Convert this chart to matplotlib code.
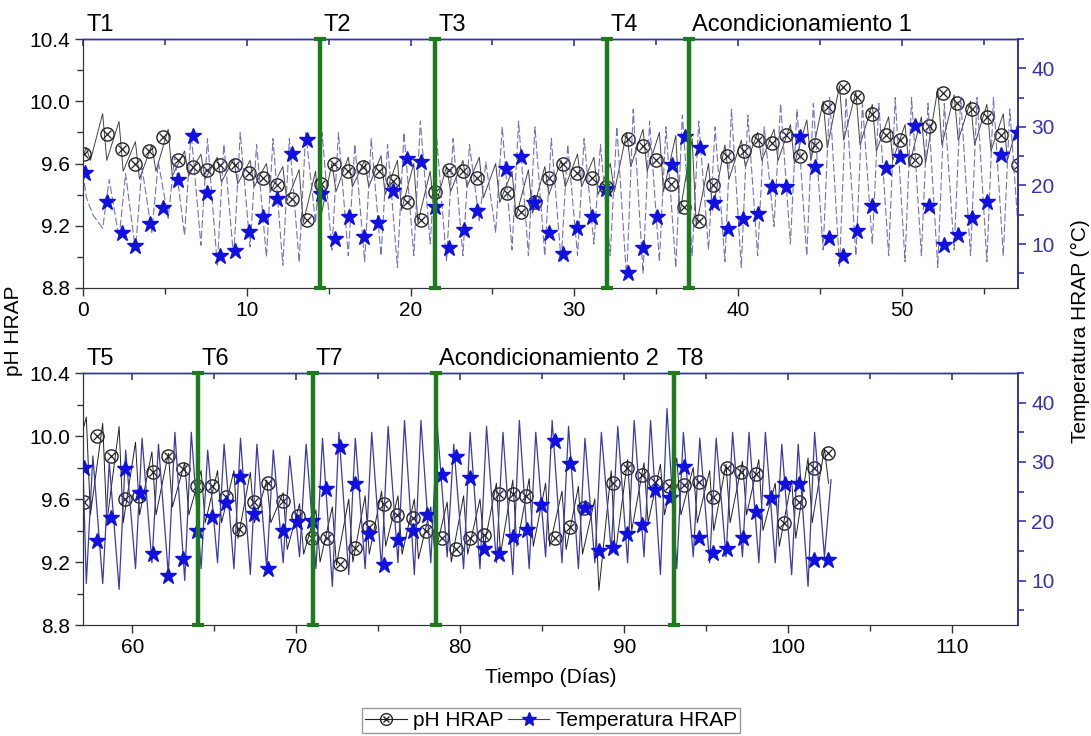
import numpy as np
import matplotlib.pyplot as plt
from matplotlib.lines import Line2D
from matplotlib.legend_handler import HandlerTuple
from matplotlib.ticker import MultipleLocator

plt.rcParams['font.family'] = ['Liberation Sans', 'DejaVu Sans']

# ---- daily extremes (days 0..57 top, 57..102 bottom)
top_days = np.arange(0, 58)
top_start = (0.0, 9.65, 22.2)          # day, pH, temperature at the first sample
top_ph_hi = [9.70, 9.92, 9.87, 9.74, 9.72, 9.82, 9.68, 9.66, 9.64, 9.63,
             9.62, 9.60, 9.58, 9.56, 9.55, 9.60, 9.64, 9.62, 9.65, 9.62,
             9.60, 9.55, 9.58, 9.62, 9.64, 9.60, 9.55, 9.56, 9.58, 9.62,
             9.66, 9.64, 9.60, 9.80, 9.82, 9.80, 9.78, 9.76, 9.60, 9.72,
             9.75, 9.80, 9.82, 9.85, 9.88, 10.00, 10.10, 10.06, 9.98, 9.90,
             9.85, 9.90, 10.08, 10.04, 10.00, 9.98, 9.92, 9.90]
top_ph_lo = [9.62, 9.62, 9.55, 9.50, 9.55, 9.52, 9.52, 9.50, 9.48, 9.47,
             9.45, 9.42, 9.36, 9.22, 9.22, 9.42, 9.45, 9.45, 9.40, 9.30,
             9.22, 9.30, 9.42, 9.45, 9.38, 9.35, 9.26, 9.28, 9.40, 9.45,
             9.45, 9.40, 9.42, 9.58, 9.55, 9.42, 9.28, 9.20, 9.30, 9.50,
             9.58, 9.62, 9.62, 9.60, 9.62, 9.70, 9.75, 9.72, 9.68, 9.62,
             9.58, 9.60, 9.72, 9.75, 9.72, 9.68, 9.62, 9.55]
top_temp_lo = [18, 12.7, 11, 9, 12, 14.4, 11.5, 9.8, 6.4, 7.6,
               9.5, 7.8, 6.4, 6.9, 13.6, 9, 8, 7, 8, 6,
               8, 10, 7, 8, 14, 12, 9, 8, 8, 7,
               8, 10, 8, 4, 5, 7, 6, 8, 9, 7,
               6, 8, 13, 10, 8, 9, 6, 8, 10, 8,
               7, 8, 6, 9, 8, 7, 8, 9]
top_temp_hi = [15, 21, 22, 23, 24, 25, 29, 28, 27, 29,
               27, 28, 28, 29, 29, 29, 27, 28, 27, 29,
               31, 28, 28, 27, 24, 30, 31, 30, 28, 27,
               28, 27, 30, 33, 31, 30, 32, 31, 30, 33,
               32, 30, 34, 33, 34, 35, 35, 34, 34, 35,
               35, 34, 34, 35, 35, 35, 33, 34]

bot_days = np.arange(57, 103)
bot_start = (57.0, 10.04, 29.0)
bot_ph_hi = [10.12, 10.08, 10.06, 9.96, 9.90, 9.89, 9.83, 9.78, 9.78, 9.78,
             9.77, 9.72, 9.64, 9.57, 9.53, 9.55, 9.60, 9.62, 9.65, 9.62,
             9.60, 9.55, 9.58, 9.62, 9.60, 9.70, 9.72, 9.73, 9.70, 9.65,
             9.68, 9.60, 9.78, 9.85, 9.83, 9.82, 9.86, 9.80, 9.78, 9.82,
             9.84, 9.85, 9.70, 9.72, 9.86, 9.92]
bot_ph_lo = [9.50, 9.45, 9.45, 9.50, 9.50, 9.55, 9.50, 9.45, 9.45, 9.35,
             9.45, 9.45, 9.28, 9.25, 9.20, 9.18, 9.20, 9.25, 9.30, 9.25,
             9.22, 9.25, 9.20, 9.25, 9.30, 9.25, 9.30, 9.30, 9.30, 9.28,
             9.25, 9.02, 9.25, 9.40, 9.45, 9.50, 9.50, 9.45, 9.40, 9.45,
             9.50, 9.40, 9.30, 9.35, 9.45, 9.70]
bot_temp_lo = [9.5, 9.5, 8.5, 12, 13, 11, 10, 12, 13, 12,
               11, 12, 13, 14, 12, 9, 11, 12, 12, 13,
               11, 13, 14, 12, 12, 13, 11, 12, 14, 13,
               12, 13, 15, 13, 14, 11, 12, 14, 13, 14,
               14, 13, 13, 11, 9, 14]
bot_temp_hi = [31, 30, 32, 34, 33, 35, 35, 32, 33, 34,
               33, 32, 31, 33, 34, 35, 34, 35, 36, 37,
               37, 36, 33, 35, 36, 35, 37, 35, 37, 36,
               34, 35, 36, 37, 37, 39, 35, 34, 34, 35,
               35, 35, 33, 33, 35, 27]

# ---- marker samples
top_ph_mk_x = [0.06, 1.47, 2.38, 3.17, 4.03, 4.88, 5.80, 6.72, 7.57, 8.36, 9.28,
               10.13, 10.99, 11.84, 12.76, 13.68, 14.53, 15.32, 16.18, 17.09, 18.07,
               18.93, 19.78, 20.63, 21.49, 22.34, 23.20, 24.05, 25.89, 26.74, 27.59,
               28.45, 29.30, 30.16, 31.07, 31.93, 33.27, 34.19, 34.98, 35.90, 36.69,
               37.61, 38.46, 39.32, 40.35, 41.21, 42.06, 42.92, 43.77, 44.69, 45.48,
               46.40, 47.25, 48.17, 49.02, 49.88, 50.79, 51.65, 52.50, 53.36, 54.27,
               55.19, 56.04, 57.08]
top_ph_mk_y = [9.66, 9.79, 9.69, 9.60, 9.68, 9.77, 9.62, 9.58, 9.56, 9.59, 9.59,
               9.54, 9.51, 9.46, 9.37, 9.24, 9.47, 9.60, 9.55, 9.58, 9.55,
               9.49, 9.35, 9.24, 9.42, 9.56, 9.55, 9.51, 9.41, 9.29, 9.35,
               9.51, 9.60, 9.54, 9.51, 9.45, 9.76, 9.71, 9.62, 9.47, 9.32,
               9.23, 9.46, 9.65, 9.68, 9.75, 9.73, 9.78, 9.65, 9.72, 9.96,
               10.09, 10.03, 9.92, 9.78, 9.75, 9.62, 9.84, 10.05, 9.99, 9.95,
               9.90, 9.78, 9.59]
top_temp_mk_x = [0.12, 1.47, 2.38, 3.17, 4.09, 4.88, 5.80, 6.72, 7.57, 8.36, 9.28,
                 10.13, 10.99, 11.84, 12.76, 13.68, 14.53, 15.38, 16.24, 17.15, 18.01,
                 18.93, 19.78, 20.63, 21.49, 22.34, 23.26, 24.05, 25.82, 26.74, 27.53,
                 28.45, 29.30, 30.16, 31.07, 31.93, 33.27, 34.19, 35.04, 35.96, 36.75,
                 37.67, 38.52, 39.38, 40.29, 41.21, 42.06, 42.92, 43.77, 44.69, 45.54,
                 46.40, 47.25, 48.17, 49.02, 49.88, 50.79, 51.65, 52.56, 53.42, 54.27,
                 55.19, 56.04, 57.08]
top_temp_mk_y = [22.2, 17.2, 11.9, 9.6, 13.4, 16.2, 21.0, 28.5, 18.7, 7.9, 8.8,
                 12.0, 14.6, 17.7, 25.4, 27.8, 18.6, 10.8, 14.6, 11.2, 13.6,
                 19.1, 24.6, 24.0, 16.3, 9.3, 12.4, 15.6, 22.8, 24.9, 17.0,
                 11.9, 8.3, 12.7, 14.6, 19.4, 5.0, 9.3, 14.6, 23.5, 28.3,
                 26.4, 17.0, 12.5, 14.3, 15.1, 19.8, 19.8, 28.3, 23.2, 11.0,
                 7.9, 12.2, 16.5, 23.0, 24.9, 30.1, 16.5, 9.8, 11.5, 14.4,
                 17.2, 25.2, 29.0]

bot_ph_mk_x = [57.06, 57.85, 58.71, 59.56, 60.42, 61.27, 62.19, 63.10, 63.96, 64.88,
               65.73, 66.52, 67.44, 68.29, 69.21, 70.13, 70.98, 71.90, 72.69, 73.61,
               74.46, 75.32, 76.17, 77.09, 77.88, 78.86, 79.71, 80.57, 81.42, 82.34,
               83.19, 83.98, 85.76, 86.67, 87.53, 89.30, 90.15, 91.07, 91.86, 92.71,
               93.63, 94.55, 95.40, 96.26, 97.11, 98.03, 99.73, 100.65, 101.57, 102.42]
bot_ph_mk_y = [9.58, 10.00, 9.87, 9.60, 9.62, 9.77, 9.87, 9.79, 9.68, 9.68,
               9.61, 9.41, 9.58, 9.70, 9.59, 9.49, 9.35, 9.35, 9.19, 9.29,
               9.42, 9.57, 9.50, 9.48, 9.40, 9.35, 9.28, 9.35, 9.37, 9.63,
               9.63, 9.62, 9.35, 9.42, 9.54, 9.70, 9.80, 9.75, 9.71, 9.68,
               9.69, 9.71, 9.61, 9.80, 9.77, 9.76, 9.45, 9.58, 9.80, 9.89]
bot_temp_mk_x = [57.06, 57.85, 58.71, 59.56, 60.48, 61.27, 62.19, 63.10, 63.96, 64.88,
                 65.73, 66.58, 67.44, 68.29, 69.21, 70.06, 70.98, 71.84, 72.69, 73.61,
                 74.46, 75.32, 76.23, 77.09, 78.00, 78.86, 79.71, 80.57, 81.42, 82.34,
                 83.19, 84.04, 84.89, 85.76, 86.67, 87.59, 88.44, 89.30, 90.15, 91.07,
                 91.86, 92.77, 93.63, 94.55, 95.40, 96.26, 97.23, 98.03, 98.94, 99.79,
                 100.65, 101.57, 102.42]
bot_temp_mk_y = [29.0, 16.7, 20.6, 28.8, 24.7, 14.4, 10.7, 13.6, 18.4, 20.8,
                 23.0, 27.5, 21.3, 12.0, 18.4, 19.9, 20.1, 25.4, 32.6, 26.3,
                 17.9, 12.6, 16.8, 18.4, 21.1, 27.8, 30.9, 27.3, 15.3, 14.4,
                 17.4, 18.6, 22.7, 33.5, 29.7, 22.3, 15.0, 15.5, 17.9, 19.4,
                 25.2, 23.9, 29.2, 17.2, 14.6, 15.3, 17.2, 21.5, 23.9, 26.3,
                 26.3, 13.4, 13.4]

top_stage_x = [14.5, 21.5, 32.0, 37.0]
top_labels = [(0.0, 'T1'), (14.5, 'T2'), (21.5, 'T3'), (32.0, 'T4'), (37.0, 'Acondicionamiento 1')]
bot_stage_x = [64.0, 71.0, 78.5, 93.0]
bot_labels = [(57.0, 'T5'), (64.0, 'T6'), (71.0, 'T7'), (78.5, 'Acondicionamiento 2'), (93.0, 'T8')]

BLUE_AX = '#3535a8'
STAR = '#1010e0'
GREEN = '#1f7a1f'


def zigzag(days, start, first, second, off1, off2):
    # alternate two daily readings into one trace
    xs = [start[0]]
    ys = [start[1]]
    for d, a, b in zip(days, first, second):
        xs += [d + off1, d + off2]
        ys += [a, b]
    return xs, ys


def panel(rect, xlim, xticks, days, start, ph_hi, ph_lo, t_lo, t_hi,
          ph_mx, ph_my, t_mx, t_my, stages, labels, faint):
    ax = fig.add_axes(rect)
    ax2 = ax.twinx()

    x, y = zigzag(days, (start[0], start[1]), ph_hi, ph_lo, 0.2, 0.45)
    ax.plot(x, y, color='#222222', lw=0.7, alpha=0.85 if faint else 1.0, zorder=2)
    ax.plot(ph_mx, ph_my, ls='none', marker='o', ms=9.5, mfc='none', mec='#222222', mew=1.0, zorder=3)
    ax.plot(ph_mx, ph_my, ls='none', marker='x', ms=6, mec='#222222', mew=0.9, zorder=3)

    x, y = zigzag(days, (start[0], start[2]), t_lo, t_hi, 0.2, 0.6)
    if faint:
        ax2.plot(x, y, color='#5a5ab0', lw=0.8, dashes=(7, 2.5), alpha=0.85, zorder=2)
    else:
        ax2.plot(x, y, color='#3a3aa8', lw=0.9, zorder=2)
    ax2.plot(t_mx, t_my, ls='none', marker='*', ms=12, color=STAR, zorder=4)

    for sx in stages:
        ax2.plot([sx, sx], [2.5, 45], color=GREEN, lw=3.2, marker='_', ms=9, mew=3,
                 solid_capstyle='butt', clip_on=False, zorder=6)
    for lx, txt in labels:
        ax.text(lx + 0.2, 10.42, txt, fontsize=17, ha='left', va='bottom')

    ax.set_xlim(*xlim)
    ax.set_ylim(8.8, 10.4)
    ax2.set_ylim(2.5, 45)
    ax.set_xticks(xticks)
    ax.xaxis.set_minor_locator(MultipleLocator(5))
    ax.set_yticks([8.8, 9.2, 9.6, 10.0, 10.4])
    ax.yaxis.set_minor_locator(MultipleLocator(0.2))
    ax2.set_yticks([10, 20, 30, 40])
    ax2.yaxis.set_minor_locator(MultipleLocator(5))

    ax.tick_params(axis='both', which='major', labelsize=15, length=6, width=1, color='#333333', direction='out')
    ax.tick_params(axis='both', which='minor', length=4, width=1, color='#333333', direction='out')
    ax2.tick_params(axis='y', which='major', labelsize=15, length=6, width=1.2, colors=BLUE_AX, direction='out')
    ax2.tick_params(axis='y', which='minor', length=4, width=1.2, color=BLUE_AX, direction='out')

    top = ax.secondary_xaxis('top')
    top.set_xticks(xticks)
    top.xaxis.set_minor_locator(MultipleLocator(5))
    top.tick_params(which='both', direction='in', labeltop=False, color=BLUE_AX, width=1.2, length=5)
    top.tick_params(which='minor', length=4)
    top.spines['top'].set_color(BLUE_AX)

    for a in (ax, ax2):
        a.spines['left'].set_color('#333333')
        a.spines['bottom'].set_color('#333333')
        a.spines['top'].set_color(BLUE_AX)
        a.spines['right'].set_color(BLUE_AX)
        a.spines['right'].set_linewidth(1.3)
        a.spines['top'].set_linewidth(1.0)
    return ax


fig = plt.figure(figsize=(10.91, 7.36), dpi=100)

panel([0.0761, 0.6087, 0.857, 0.3383], (0, 57.1), [0, 10, 20, 30, 40, 50],
      top_days, top_start, top_ph_hi, top_ph_lo, top_temp_lo, top_temp_hi,
      top_ph_mk_x, top_ph_mk_y, top_temp_mk_x, top_temp_mk_y,
      top_stage_x, top_labels, True)
axb = panel([0.0761, 0.1508, 0.857, 0.3424], (57, 114), [60, 70, 80, 90, 100, 110],
            bot_days, bot_start, bot_ph_hi, bot_ph_lo, bot_temp_lo, bot_temp_hi,
            bot_ph_mk_x, bot_ph_mk_y, bot_temp_mk_x, bot_temp_mk_y,
            bot_stage_x, bot_labels, False)

axb.set_xlabel('Tiempo (Días)', fontsize=15, labelpad=8)
fig.text(0.012, 0.55, 'pH HRAP', rotation=90, fontsize=15, ha='center', va='center')
fig.text(0.99, 0.55, 'Temperatura HRAP (°C)', rotation=90, fontsize=15, ha='center', va='center')

h_o = Line2D([], [], color='#222222', lw=0.8, marker='o', ms=8.5, mfc='none', mec='#222222')
h_x = Line2D([], [], ls='none', marker='x', ms=5, mec='#222222')
h_t = Line2D([], [], color='#3a3aa8', lw=0.8, marker='*', ms=10, mfc=STAR, mec=STAR)
fig.legend([(h_o, h_x), h_t], ['pH HRAP', 'Temperatura HRAP'],
           handler_map={tuple: HandlerTuple(ndivide=1, pad=0)},
           loc='center', bbox_to_anchor=(0.505, 0.021), ncol=2, fontsize=15,
           frameon=True, fancybox=False, edgecolor='#999999', framealpha=1,
           handlelength=2.0, handletextpad=0.3, columnspacing=0.2, borderpad=0.15)

fig.savefig('out.png', dpi=100)
